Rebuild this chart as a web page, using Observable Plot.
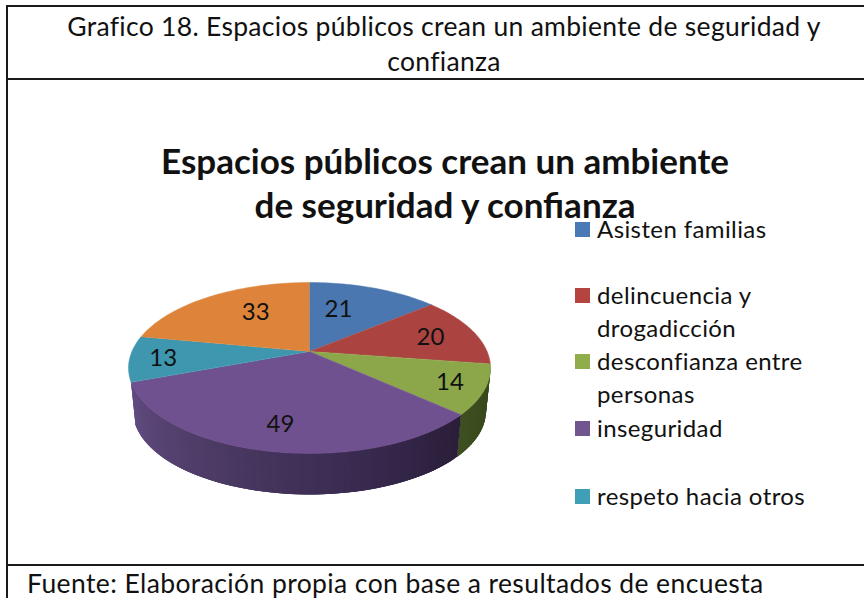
<!DOCTYPE html>
<html lang="es">
<head>
<meta charset="utf-8">
<script src="https://cdn.jsdelivr.net/npm/d3@7"></script>
<script src="https://cdn.jsdelivr.net/npm/@observablehq/plot@0.6"></script>
<style>
  html, body { margin: 0; padding: 0; background: #fff; }
  #page { position: relative; width: 864px; height: 598px; overflow: hidden; font-family: Lato, sans-serif; color: #111; }
  #page svg { position: absolute; left: 0; top: 0; }
  .rule { position: absolute; background: #1a1a1a; }
  .txt { position: absolute; white-space: nowrap; }
  .center { transform: translateX(-50%); text-align: center; }
  .head { font-size: 26.5px; line-height: 35px; left: 444px; letter-spacing: 0.3px; }
  .title { font-size: 35px; line-height: 43px; font-weight: 700; left: 445px; }
  .foot { font-size: 26.5px; line-height: 26px; left: 27px; top: 570px; letter-spacing: 0.4px; }
  .leg { font-size: 24px; line-height: 33px; left: 597px; letter-spacing: 0.4px; }
  .sw { position: absolute; left: 575px; width: 15px; height: 15px; }
</style>
</head>
<body>
<div id="page"></div>
<script>
const categories = ["Asisten familias", "delincuencia y drogadicción", "desconfianza entre personas", "inseguridad", "respeto hacia otros", "otros"];
const values = [21, 20, 14, 49, 13, 33];
const topColors = ["#4a77af", "#ab4441", "#8ba749", "#70518f", "#3e97af", "#dd843a"];
const legendColors = ["#4a7ab5", "#b5443f", "#8fae4b", "#71558f", "#3f9fb6"];

const page = document.getElementById("page");
const add = (cls, text, css) => {
  const d = document.createElement("div");
  d.className = cls;
  if (text) d.textContent = text;
  Object.assign(d.style, css);
  page.appendChild(d);
};

// Perspective of the pie, in units of its radius
const k = 0.193, shrink = 0.975, drop = 0.529;
const project = (deg, r = 1) => {
  const a = deg * Math.PI / 180, u = r * Math.sin(a), v = r * Math.cos(a), w = 1 + k * v;
  return [u / w, v / w];
};
const lower = ([x, y]) => [x * shrink, y * shrink - drop];

const total = d3.sum(values);
const ends = d3.cumsum(values).map(c => c / total * 360);
const starts = ends.map((e, i) => i ? ends[i - 1] : 0);
const angles = (a, b) => { const n = Math.ceil((b - a) / 1.5); return d3.range(n + 1).map(i => a + (b - a) * i / n); };

// Top faces
const faces = categories.flatMap((c, i) =>
  [[0, 0], ...angles(starts[i], ends[i]).map(a => project(a))].map(([x, y]) => ({x, y, z: c, fill: topColors[i]})));

// Side wall, visible on the two front slices; each strip runs under the next so no seams show
const wallShade = {
  2: d3.scaleLinear().domain([98, 132]).range(["#36451c", "#3e4f20"]),
  3: d3.scaleLinear().domain([132, 165, 205, 249.6]).range(["#2a1e38", "#38294f", "#4b3a63", "#624c82"])
};
const walls = [2, 3].flatMap(i => {
  const as = angles(starts[i], ends[i]);
  return as.slice(1).flatMap((a, j) => {
    const next = as[Math.min(j + 3, as.length - 1)];
    const p = project(as[j]), q = project(next), fill = wallShade[i]((as[j] + a) / 2);
    return [p, q, lower(q), lower(p)].map(([x, y]) => ({x, y, z: `${i}-${String(j).padStart(3, "0")}`, fill}));
  });
});

// Placement of the value labels: distance from centre and angular nudge
const labelRadius = [0.59, 0.72, 0.81, 0.77, 0.82, 0.62];
const labelNudge = [-8, 1.5, 0, 0, -1, 6.4];
const labels = values.map((v, i) => {
  const [x, y] = project((starts[i] + ends[i]) / 2 + labelNudge[i], labelRadius[i]);
  return {x, y, v};
});

const chart = Plot.plot({
  width: 864, height: 598, margin: 0,
  x: {domain: [-1.74, 3.125], axis: null},
  y: {domain: [-3.001, 4.265], axis: null},
  color: {type: "identity"},
  style: {background: "transparent", overflow: "visible"},
  marks: [
    Plot.line(walls, {x: "x", y: "y", z: "z", fill: "fill", curve: "linear"}),
    Plot.line(faces, {x: "x", y: "y", z: "z", fill: "fill", stroke: "fill", strokeWidth: 0.5, curve: "linear"}),
    Plot.text(labels, {x: "x", y: "y", text: "v", dx: 1, fontSize: 24, fontFamily: "Lato, sans-serif", fill: "#111"})
  ]
});
page.appendChild(chart);

// Frame of the table
add("rule", "", {left: "6px", top: "5px", width: "2px", height: "593px"});
add("rule", "", {left: "6px", top: "5px", width: "858px", height: "2px"});
add("rule", "", {left: "6px", top: "78px", width: "858px", height: "2px"});
add("rule", "", {left: "6px", top: "564px", width: "858px", height: "2px"});

add("txt center head", "Grafico 18. Espacios públicos crean un ambiente de seguridad y", {top: "9px"});
add("txt center head", "confianza", {top: "44px"});
add("txt center title", "Espacios públicos crean un ambiente", {top: "139px"});
add("txt center title", "de seguridad y confianza", {top: "183px"});
add("txt foot", "Fuente: Elaboración propia con base a resultados de encuesta", {});

const legendRows = [
  [0, ["Asisten familias"], 229],
  [1, ["delincuencia y", "drogadicción"], 295],
  [2, ["desconfianza entre", "personas"], 361],
  [3, ["inseguridad"], 428],
  [4, ["respeto hacia otros"], 496]
];
legendRows.forEach(([i, lines, cy]) => {
  add("sw", "", {top: (cy - 7) + "px", background: legendColors[i]});
  lines.forEach((t, j) => add("txt leg", t, {top: (cy - 17 + j * 33) + "px"}));
});
</script>
</body>
</html>
